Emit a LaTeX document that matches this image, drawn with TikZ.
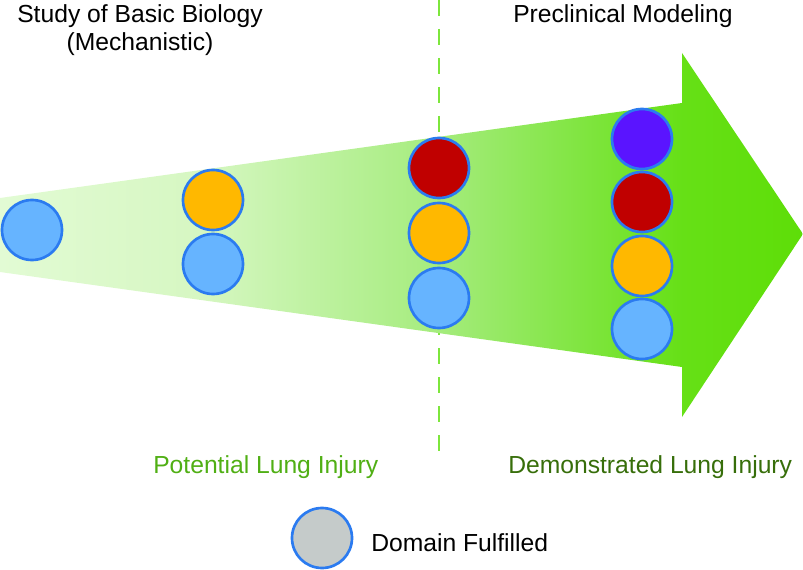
\documentclass[tikz,border=0pt]{standalone}
\usepackage{fontspec}
\setmainfont{Liberation Sans}

\definecolor{ringblue}{RGB}{43,123,240}
\definecolor{dblue}{RGB}{102,180,255}
\definecolor{dorange}{RGB}{255,184,0}
\definecolor{dred}{RGB}{192,0,0}
\definecolor{dpurple}{RGB}{90,20,255}
\definecolor{dgray}{RGB}{197,203,202}
\definecolor{alight}{RGB}{226,251,212}
\definecolor{aone}{RGB}{214,247,194}
\definecolor{amid}{RGB}{165,236,125}
\definecolor{adark}{RGB}{102,224,22}
\definecolor{aend}{RGB}{94,222,8}
\definecolor{dashgreen}{RGB}{125,230,60}
\definecolor{potgreen}{RGB}{80,175,20}
\definecolor{demgreen}{RGB}{55,110,10}

\pgfdeclarehorizontalshading{arrowfill}{100bp}{color(0bp)=(alight); color(25bp)=(alight); color(37.5bp)=(aone); color(52.3bp)=(amid); color(67.5bp)=(adark); color(75bp)=(aend); color(100bp)=(aend)}

\tikzset{
  dom/.style={circle, draw=ringblue, line width=2pt, minimum size=45pt, inner sep=0pt},
  lbl/.style={anchor=base west, inner sep=0pt, font=\fontsize{18.5}{22}\selectfont},
  divider/.style={dashgreen, line width=1.5pt, dash pattern=on 12pt off 9.75pt}
}

\begin{document}
\begin{tikzpicture}[x=0.75pt, y=-0.75pt]
\useasboundingbox (0,0) rectangle (803,570);

\coordinate (dtop) at (439,0);
\coordinate (dbot) at (439,455);
\draw[divider] (dtop) -- (dbot);

\shade[shading=arrowfill] (0,198) -- (682,103) -- (682,53) -- (803,234)
  -- (682,417) -- (682,367) -- (0,272) -- cycle;

\node[dom, fill=dblue] (D1_1) at (32,230) {};

\node[dom, fill=dorange] (D2_2) at (213,200) {};
\node[dom, fill=dblue] (D2_1) at (213,264) {};

\node[dom, fill=dred] (D3_3) at (439,168) {};
\node[dom, fill=dorange] (D3_2) at (439,233) {};
\node[dom, fill=dblue] (D3_1) at (439,298) {};

\node[dom, fill=dpurple] (D4_4) at (642,139) {};
\node[dom, fill=dred] (D4_3) at (642,202) {};
\node[dom, fill=dorange] (D4_2) at (642,266) {};
\node[dom, fill=dblue] (D4_1) at (642,329) {};

\node[lbl] (basic) at (17,23) {Study of Basic Biology};
\node[lbl, anchor=base] (mech) at (140,51) {(Mechanistic)};
\node[lbl] (precl) at (513,23) {Preclinical Modeling};
\node[lbl, text=potgreen] (potential) at (153,473) {Potential Lung Injury};
\node[lbl, text=demgreen] (demonstrated) at (508,473) {Demonstrated Lung Injury};

\node[dom, fill=dgray] (key) at (322,538) {};
\node[lbl] (keytext) at (371,551) {Domain Fulfilled};

\end{tikzpicture}
\end{document}
